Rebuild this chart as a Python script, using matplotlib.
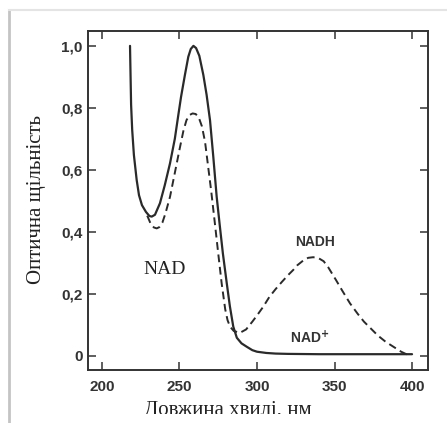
import matplotlib.pyplot as plt
from matplotlib.lines import Line2D
from matplotlib.patches import Rectangle

# NAD+ (solid)
nad_wl = [218.1, 218.5, 218.8, 219.5, 220.6, 222.4, 223.9, 225.8, 228.4, 230.6, 232.1,
          234.2, 237.4, 240.5, 243.9, 247, 249.2, 251, 253.5, 255.7, 257.3, 259,
          260.7, 262.8, 265.4, 267.5, 269.7, 271.8, 274, 276, 278, 280.5, 282.5,
          284.7, 287, 290, 293.4, 297, 300, 306, 312, 320, 340, 360, 380, 400]
nad_abs = [1.0, 0.89, 0.81, 0.729, 0.648, 0.567, 0.518, 0.486, 0.464, 0.451, 0.449,
           0.455, 0.492, 0.55, 0.621, 0.70, 0.775, 0.835, 0.906, 0.965, 0.99, 1.0,
           0.993, 0.968, 0.906, 0.842, 0.76, 0.643, 0.513, 0.42, 0.33, 0.234, 0.16,
           0.094, 0.058, 0.04, 0.029, 0.018, 0.013, 0.009, 0.007, 0.006, 0.005,
           0.005, 0.005, 0.005]

# NADH (dashed)
nadh_wl = [229.2, 229.9, 231.5, 233.5, 235.3, 237, 239, 241, 243.9, 247, 250, 252.5,
           254.5, 256.5, 258.5, 260.5, 262.5, 264.5, 266.5, 268.5, 270.5, 273, 275,
           277.2, 279.5, 281, 282.6, 285, 289, 293, 297, 300, 304, 308, 312, 316,
           320, 323.4, 326, 330, 333, 336.3, 340, 343, 346, 351, 355, 360, 365, 369,
           373, 378, 383, 388, 393, 397.6]
nadh_abs = [0.452, 0.444, 0.425, 0.414, 0.411, 0.415, 0.43, 0.46, 0.513, 0.59, 0.665,
            0.725, 0.76, 0.777, 0.782, 0.78, 0.768, 0.74, 0.69, 0.61, 0.53, 0.42, 0.33,
            0.234, 0.15, 0.115, 0.094, 0.08, 0.074, 0.085, 0.11, 0.13, 0.158, 0.19,
            0.215, 0.238, 0.26, 0.277, 0.292, 0.308, 0.316, 0.318, 0.314, 0.305,
            0.285, 0.244, 0.21, 0.169, 0.135, 0.11, 0.09, 0.065, 0.045, 0.029, 0.013,
            0.002]

x_ticks = [200, 250, 300, 350, 400]
y_ticks = [0, 0.2, 0.4, 0.6, 0.8, 1.0]
y_tick_labels = ["0", "0,2", "0,4", "0,6", "0,8", "1,0"]

W, H = 447, 423
fig = plt.figure(figsize=(W / 100, H / 100), dpi=100)
ax = fig.add_axes([88 / W, 1 - 370 / H, (428 - 88) / W, (370 - 31) / H])

ax.plot(nad_wl, nad_abs, color="#2a2a2a", lw=1.6, solid_capstyle="round",
        solid_joinstyle="round")
ax.plot(nadh_wl, nadh_abs, color="#2a2a2a", lw=1.4, dashes=(4, 2.4))

ax.set_xlim(191, 410.3)
ax.set_ylim(-0.046, 1.048)
ax.set_xticks(x_ticks)
ax.set_yticks(y_ticks)
ax.set_yticklabels(y_tick_labels)
ax.tick_params(direction="in", top=True, right=True, length=6, width=1.1,
               color="#333333", labelsize=11, labelcolor="#333333")
ax.tick_params(axis="x", pad=7)
ax.tick_params(axis="y", pad=4)
for lbl in ax.get_xticklabels() + ax.get_yticklabels():
    lbl.set_fontfamily("Liberation Sans")
    lbl.set_fontweight("bold")
for s in ax.spines.values():
    s.set_linewidth(1.4)
    s.set_color("#333333")

ax.text(240.3, 0.277, "NAD", fontsize=14, family="Liberation Serif",
        ha="center", va="center", color="#222222")
ax.text(337.4, 0.367, "NADH", fontsize=10, family="Liberation Sans",
        fontweight="bold", ha="center", va="center", color="#333333")
ax.text(334, 0.06, "NAD$^{\\mathbf{+}}$", fontsize=10, family="Liberation Sans",
        fontweight="bold", ha="center", va="center", color="#333333")

fig.text(37 / W, 1 - 200 / H, "Оптична щільність", rotation=90, fontsize=15,
         family="Liberation Serif", ha="center", va="center", color="#222222")
fig.text(228 / W, 1 - 401 / H, "Довжина хвилі, нм", fontsize=15,
         family="Liberation Serif", ha="center", va="top", color="#222222")

# bottom strip of the scan hides the lower half of the x label
fig.add_artist(Rectangle((0, 0), 1, 9 / H, transform=fig.transFigure,
                         facecolor="white", edgecolor="none", zorder=5))
# faint frame of the scanned page
fig.add_artist(Line2D([9 / W, 9 / W], [0, 1 - 10 / H], transform=fig.transFigure,
                      color="#c4c4c4", lw=2, zorder=6))
fig.add_artist(Line2D([9 / W, 1], [1 - 10 / H, 1 - 10 / H], transform=fig.transFigure,
                      color="#e4e4e4", lw=1.5, zorder=6))

fig.savefig("out.png", dpi=100)
